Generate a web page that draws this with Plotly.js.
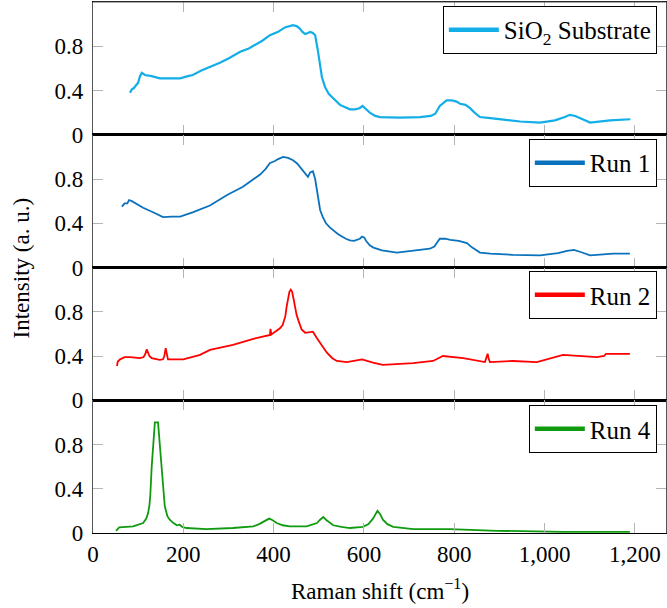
<!DOCTYPE html>
<html>
<head>
<meta charset="utf-8">
<script src="https://cdn.plot.ly/plotly-3.0.1.min.js"></script>
<style>
html,body{margin:0;padding:0;background:#fff}
#chart{width:667px;height:608px}
#chart text, #chart tspan{font-family:"Liberation Serif" !important}
</style>
</head>
<body>
<div id="chart"></div>
<script>
// Series names
const seriesNames = ["SiO<sub>2</sub> Substrate", "Run 1", "Run 2", "Run 4"];

// SiO2 substrate
const xSiO2 = [82,86,90,95,100,104,108,115,130,148,170,193,210,221,240,259,281,300,326,345,359,375,392,410,425,443,452,458,464,470,476,481,487,492,498,503,507,514,522,532,547,569,580,590,597,605,613,625,636,680,724,748,758,768,776,783,790,795,805,813,825,835,845,857,880,901,946,990,1023,1045,1056,1068,1078,1101,1145,1190];
const ySiO2 = [0.38,0.41,0.42,0.45,0.47,0.53,0.56,0.54,0.53,0.51,0.51,0.51,0.53,0.54,0.58,0.61,0.65,0.69,0.75,0.78,0.81,0.85,0.9,0.93,0.97,0.99,0.98,0.96,0.93,0.91,0.92,0.93,0.92,0.9,0.76,0.6,0.52,0.43,0.37,0.33,0.27,0.23,0.23,0.24,0.26,0.23,0.2,0.17,0.16,0.155,0.16,0.17,0.19,0.26,0.29,0.31,0.31,0.31,0.3,0.28,0.27,0.24,0.2,0.16,0.15,0.14,0.12,0.11,0.13,0.16,0.18,0.17,0.15,0.11,0.13,0.14];

// Run 1
const xRun1 = [64,70,76,80,86,90,100,111,133,155,175,193,222,259,297,332,370,382,392,402,410,421,432,443,452,460,470,476,481,487,492,498,503,509,516,525,543,560,569,578,585,591,596,601,605,613,621,640,673,746,756,762,768,780,791,810,828,840,857,880,930,990,1030,1050,1065,1080,1101,1152,1189];
const yRun1 = [0.55,0.58,0.58,0.61,0.6,0.59,0.57,0.54,0.5,0.455,0.46,0.46,0.5,0.56,0.655,0.73,0.84,0.89,0.945,0.96,0.98,1.0,0.99,0.97,0.94,0.9,0.84,0.82,0.86,0.87,0.8,0.64,0.52,0.455,0.4,0.36,0.3,0.26,0.245,0.24,0.25,0.26,0.28,0.27,0.24,0.2,0.18,0.155,0.135,0.17,0.19,0.23,0.26,0.26,0.25,0.24,0.22,0.18,0.135,0.125,0.115,0.11,0.13,0.15,0.16,0.14,0.11,0.125,0.125];

// Run 2
const xRun2 = [53,55,60,70,82,104,112,116,119,122,125,130,148,155,158,161,164,166,180,200,237,259,310,355,392,393,395,414,420,426,429,432,435,438,441,444,447,451,455,462,470,481,487,496,507,518,530,540,562,596,620,642,709,753,775,820,868,874,876,879,930,983,1041,1116,1132,1136,1189];
const yRun2 = [0.31,0.35,0.37,0.39,0.39,0.38,0.39,0.42,0.46,0.42,0.4,0.38,0.365,0.37,0.4,0.47,0.4,0.37,0.37,0.37,0.41,0.455,0.5,0.555,0.59,0.645,0.595,0.65,0.68,0.76,0.85,0.93,0.98,1.0,0.98,0.92,0.85,0.77,0.72,0.64,0.61,0.62,0.62,0.56,0.49,0.43,0.38,0.355,0.345,0.37,0.34,0.32,0.335,0.355,0.4,0.38,0.345,0.42,0.38,0.345,0.355,0.345,0.41,0.39,0.4,0.42,0.42];

// Run 4
const xRun4 = [51,58,89,111,118,122,125,127,130,134,137,144,147,151,155,159,165,170,178,186,192,198,207,251,310,355,368,377,384,390,396,407,420,436,473,490,496,503,510,516,525,532,550,569,598,610,620,626,630,636,642,652,665,709,791,895,1041,1189];
const yRun4 = [0.02,0.05,0.06,0.09,0.13,0.18,0.25,0.35,0.6,0.85,1.0,1.0,0.85,0.6,0.38,0.24,0.15,0.12,0.09,0.07,0.075,0.055,0.045,0.035,0.045,0.06,0.08,0.1,0.12,0.13,0.12,0.09,0.07,0.06,0.06,0.08,0.09,0.12,0.145,0.12,0.09,0.07,0.055,0.045,0.055,0.08,0.13,0.17,0.2,0.17,0.12,0.08,0.055,0.035,0.035,0.02,0.01,0.01];

// Tick labels
const xTicks = [0,200,400,600,800,1000,1200];
const xTickText = ["0","200","400","600","800","1,000","1,200"];
const yTicks = [0,0.4,0.8];
const yTickText = ["0","0.4","0.8"];

const colors = ["#12aee8", "#0a72bd", "#ff0000", "#109a10"];
const xs = [xSiO2, xRun1, xRun2, xRun4];
const ys = [ySiO2, yRun1, yRun2, yRun4];
const widths = [2.2, 1.8, 1.8, 1.8];

const FONT = "Liberation Serif";
const traces = [];
for (let i = 0; i < 4; i++) {
  const n = i + 1;
  const sfx = n === 1 ? "" : String(n);
  traces.push({
    x: xs[i], y: ys[i], type: "scatter", mode: "lines",
    line: {color: colors[i], width: widths[i]},
    xaxis: "x" + sfx, yaxis: "y" + sfx, showlegend: false, hoverinfo: "skip"
  });
  traces.push({
    x: [null], y: [null], type: "scatter", mode: "lines",
    name: seriesNames[i],
    line: {color: colors[i], width: 4.5},
    xaxis: "x" + sfx, yaxis: "y" + sfx, showlegend: true,
    legend: "legend" + sfx
  });
}

const layout = {
  width: 667, height: 608,
  margin: {l: 93, r: 1, t: 2, b: 75},
  paper_bgcolor: "#fff", plot_bgcolor: "#fff",
  font: {family: FONT, size: 23, color: "#000"},
  shapes: [
    {type: "line", xref: "paper", yref: "paper", x0: 0, x1: 1, y0: 1, y1: 1,
     line: {color: "#555", width: 1.2}}
  ],
  annotations: [
    {text: "Intensity (a. u.)", xref: "paper", yref: "paper", x: -0.124, y: 0.5,
     textangle: -90, showarrow: false, xanchor: "center", yanchor: "middle",
     font: {family: FONT, size: 23, color: "#000"}},
    {text: "Raman shift (cm<sup>−1</sup>)", xref: "paper", yref: "paper", x: 0.5, y: -0.107,
     showarrow: false, xanchor: "center", yanchor: "middle",
     font: {family: FONT, size: 23, color: "#000"}}
  ]
};

const legendYs = [0.9925, 0.742, 0.4934, 0.241];
const domains = [[0.75, 1], [0.5, 0.75], [0.25, 0.5], [0, 0.25]];
for (let i = 0; i < 4; i++) {
  const n = i + 1;
  const sfx = n === 1 ? "" : String(n);
  layout["xaxis" + sfx] = {
    range: [0, 1269], anchor: "y" + sfx, domain: [0, 1],
    tickmode: "array", tickvals: xTicks, ticktext: xTickText,
    showticklabels: n === 4, ticks: "inside", ticklen: 10, tickwidth: 1, tickcolor: "#b4b4b4",
    showgrid: false, zeroline: false, showline: true, linecolor: "#000", linewidth: 1.4, mirror: "ticks",
    tickfont: {family: FONT, size: 23, color: "#000"}, fixedrange: true
  };
  if (n !== 1) layout["xaxis" + sfx].matches = "x";
  layout["yaxis" + sfx] = {
    range: [0, 1.2], anchor: "x" + sfx, domain: domains[i],
    tickmode: "array", tickvals: yTicks, ticktext: yTickText,
    ticks: "inside", ticklen: 10, tickwidth: 1, tickcolor: "#b4b4b4",
    showgrid: false, zeroline: false,
    showline: true, linecolor: "#555", linewidth: 1.2, mirror: "ticks",
    ticklabelstandoff: 4,
    tickfont: {family: FONT, size: 23, color: "#000"}, fixedrange: true
  };
  layout["legend" + sfx] = {
    x: 0.984, xanchor: "right", y: legendYs[i], yanchor: "top",
    xref: "paper", yref: "paper",
    bgcolor: "#fff", bordercolor: "#000", borderwidth: 1,
    itemwidth: 50, tracegroupgap: 0,
    font: {family: FONT, size: 25, color: "#000"}
  };
}

Plotly.newPlot("chart", traces, layout, {staticPlot: true, displayModeBar: false});
</script>
</body>
</html>
